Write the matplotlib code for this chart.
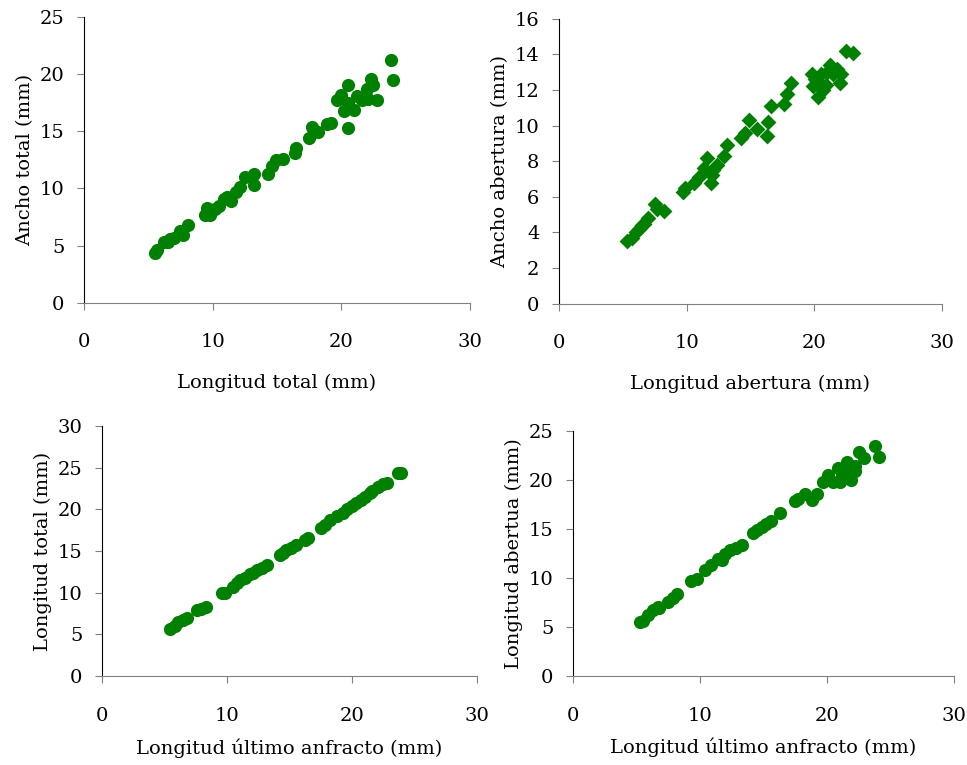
import numpy as np
from matplotlib import pyplot as plt

# panel 1: longitud total vs ancho total
lt_1 = [5.5, 5.7, 6.2, 6.5, 6.7, 7.0, 7.5, 7.7, 8.1, 9.4, 9.6, 9.8, 10.2, 10.5, 10.9,
        11.1, 11.4, 11.8, 12.1, 12.5, 13.2, 13.2, 14.3, 14.6, 14.9, 15.5, 16.4, 16.5,
        17.5, 17.7, 18.2, 18.9, 19.2, 19.7, 20.0, 20.2, 20.5, 20.5, 20.5, 21.0, 21.2,
        21.6, 22.0, 22.1, 22.3, 22.5, 22.8, 23.9, 24.0]
at_1 = [4.4, 4.6, 5.3, 5.3, 5.6, 5.7, 6.3, 5.9, 6.8, 7.7, 8.3, 7.7, 8.2, 8.5, 9.1,
        9.3, 8.9, 9.7, 10.1, 11.0, 11.3, 10.3, 11.3, 12.0, 12.5, 12.6, 13.1, 13.5,
        14.4, 15.4, 14.9, 15.6, 15.7, 17.7, 18.2, 16.8, 19.0, 15.3, 17.5, 16.9, 18.1,
        17.7, 18.7, 17.8, 19.6, 19.0, 17.7, 21.2, 19.5]

# panel 2: longitud abertura vs ancho abertura
la_2 = [5.3, 5.7, 6.0, 6.3, 6.7, 7.0, 7.5, 7.7, 8.2, 9.7, 9.9, 10.6, 11.0, 11.6, 11.9,
        12.1, 12.4, 12.9, 13.2, 14.3, 14.6, 14.9, 15.5, 16.3, 16.4, 16.6, 17.6, 17.9,
        18.2, 19.8, 19.9, 20.1, 20.3, 20.5, 20.7, 20.9, 21.2, 21.5, 22.0, 22.1, 22.5,
        23.0, 20.2, 21.0, 21.8, 12.0, 11.4, 6.5]
aa_2 = [3.5, 3.7, 4.0, 4.2, 4.5, 4.8, 5.6, 5.3, 5.2, 6.3, 6.5, 6.8, 7.1, 8.2, 6.8,
        7.5, 7.8, 8.3, 8.9, 9.3, 9.6, 10.3, 9.8, 9.4, 10.2, 11.1, 11.2, 11.8,
        12.4, 12.9, 12.2, 12.6, 11.6, 12.9, 12.0, 12.3, 13.4, 12.9, 12.4, 12.9, 14.2,
        14.1, 12.5, 13.0, 13.2, 7.2, 7.6, 4.4]

# panel 3: longitud ultimo anfracto vs longitud total
lu_3 = [5.4, 5.8, 6.1, 6.5, 6.8, 7.6, 7.9, 8.3, 9.6, 9.8, 10.5, 10.8, 11.0, 11.4,
        11.8, 12.1, 12.4, 12.8, 13.2, 14.2, 14.5, 14.7, 15.1, 15.5, 16.2, 16.5,
        17.5, 17.8, 18.2, 18.8, 19.3, 19.6, 20.0, 20.3, 20.7, 21.0, 21.4, 21.6,
        22.1, 22.5, 22.8, 23.7, 23.9]
lt_3 = [5.6, 6.0, 6.5, 6.7, 6.9, 7.9, 8.0, 8.3, 9.9, 10.0, 10.7, 11.1, 11.5, 11.8,
        12.2, 12.4, 12.7, 13.0, 13.3, 14.5, 14.8, 15.1, 15.4, 15.7, 16.3, 16.5,
        17.7, 18.1, 18.7, 19.2, 19.6, 20.0, 20.4, 20.7, 21.1, 21.5, 21.9, 22.2,
        22.7, 23.0, 23.2, 24.3, 24.4]

# panel 4: longitud ultimo anfracto vs longitud abertura
lu_4 = [5.3, 5.5, 5.9, 6.3, 6.7, 6.8, 7.5, 7.9, 8.2, 9.3, 9.8, 10.4, 10.9, 11.4,
        11.7, 12.0, 12.4, 12.8, 13.3, 14.2, 14.5, 14.9, 15.2, 15.6, 16.3, 17.5,
        17.7, 18.3, 18.8, 19.2, 19.7, 20.1, 20.5, 20.9, 21.0, 21.2, 21.4, 21.6,
        21.9, 22.2, 22.2, 22.5, 22.9, 23.8, 24.1]
la_4 = [5.5, 5.6, 6.2, 6.7, 7.1, 6.9, 7.6, 8.0, 8.4, 9.7, 9.9, 10.8, 11.3, 12.0,
        11.8, 12.5, 12.9, 13.1, 13.4, 14.6, 14.9, 15.2, 15.5, 15.8, 16.6, 17.9,
        18.1, 18.6, 18.0, 18.6, 19.8, 20.5, 19.8, 21.2, 19.8, 20.4, 20.7, 21.9,
        20.0, 21.5, 20.9, 22.9, 22.3, 23.5, 22.4]

plt.rcParams['font.family'] = ['DejaVu Serif']
plt.rcParams['font.size'] = 14

fig = plt.figure(figsize=(9.67, 7.65), dpi=100)

green = '#008000'


def style_ax(ax, ymax, ystep, xlabel, ylabel, xpad):
    ax.set_xlim(0, 30)
    ax.set_ylim(0, ymax)
    ax.set_xticks([0, 10, 20, 30])
    ax.set_yticks(np.arange(0, ymax + 0.1, ystep))
    ax.spines['top'].set_visible(False)
    ax.spines['right'].set_visible(False)
    ax.spines['bottom'].set_color('#808080')
    ax.spines['left'].set_color('black')
    ax.tick_params(axis='x', direction='out', length=5, pad=17, colors='#808080',
                   labelcolor='black', labelsize=14)
    ax.tick_params(axis='y', direction='out', length=5, pad=9, colors='#808080',
                   labelcolor='black', labelsize=14)
    ax.set_xlabel(xlabel, fontsize=14, labelpad=xpad)
    ax.set_ylabel(ylabel, fontsize=14, labelpad=4)


ax1 = fig.add_axes([0.0869, 0.604, 0.399, 0.374])
ax1.scatter(lt_1, at_1, s=90, color=green, marker='o', linewidths=0, zorder=3)
style_ax(ax1, 25, 5, 'Longitud total (mm)', 'Ancho total (mm)', 16)

ax2 = fig.add_axes([0.578, 0.603, 0.396, 0.3725])
ax2.scatter(la_2, aa_2, s=65, color=green, marker='D', linewidths=0, zorder=3)
style_ax(ax2, 16, 2, 'Longitud abertura (mm)', 'Ancho abertura (mm)', 16)

ax3 = fig.add_axes([0.1055, 0.1163, 0.388, 0.327])
ax3.scatter(lu_3, lt_3, s=90, color=green, marker='o', linewidths=0, zorder=3)
style_ax(ax3, 30, 5, 'Longitud último anfracto (mm)', 'Longitud total (mm)', 10)

ax4 = fig.add_axes([0.5925, 0.1163, 0.394, 0.320])
ax4.scatter(lu_4, la_4, s=90, color=green, marker='o', linewidths=0, zorder=3)
style_ax(ax4, 25, 5, 'Longitud último anfracto (mm)', 'Longitud abertua (mm)', 9)

fig.savefig('out.png', dpi=100)
